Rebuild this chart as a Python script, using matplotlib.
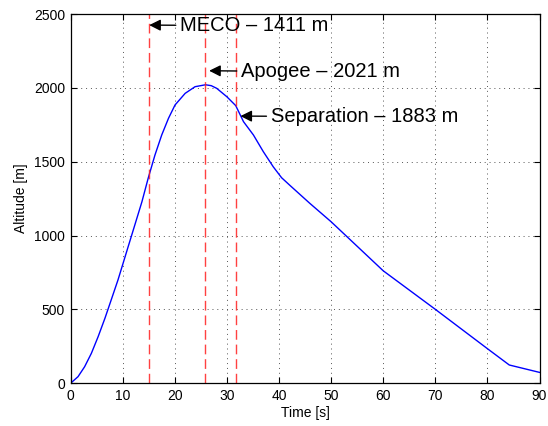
import matplotlib.pyplot as plt

# flight profile (time in s, altitude in m)
time_s = [0, 1.44, 2.7, 4.0, 5.3, 6.6, 7.8, 9.1, 10.1, 11.0, 12.0, 12.4, 13.7,
          14.9, 16.2, 17.5, 18.8, 20.05, 22.0, 23.9, 25.9, 27.0, 28.05, 30.0,
          31.7, 33.2, 35.1, 37.0, 38.9, 40.5, 42.1, 45.9, 50.0, 60.0, 70.0,
          80.1, 84.2, 90.0]
altitude_m = [0, 45, 112, 203, 316, 440, 564, 699, 814, 918, 1033, 1079, 1229,
              1388, 1545, 1681, 1794, 1884, 1963, 2008, 2021, 2015, 1997, 1940,
              1880, 1771, 1681, 1568, 1466, 1392, 1340, 1219, 1094, 762, 501,
              232, 124, 74]

events = ["MECO", "Apogee", "Separation"]
event_time = [15.06, 25.9, 31.7]
event_alt = [1411, 2021, 1883]
# where the arrow heads and labels sit
arrow_tip = [(15.1, 2425), (26.6, 2116), (32.6, 1809)]
label_pos = [(21.0, 2421), (32.7, 2109), (38.4, 1805)]

plt.rcParams['font.family'] = ['Liberation Sans', 'DejaVu Sans']

fig = plt.figure(figsize=(5.48, 4.26), dpi=100)
ax = fig.add_axes([0.1287, 0.1002, 0.8558, 0.8669])

ax.plot(time_s, altitude_m, color='#0000ff', lw=1.0)

for t in event_time:
    ax.axvline(t, color='#ff2020', lw=1.0, ls=(0, (7, 3.5)), alpha=0.85)

for name, alt, tip, pos in zip(events, event_alt, arrow_tip, label_pos):
    ax.annotate(f"{name} \u2013 {alt} m", xy=tip, xytext=pos,
                ha='left', va='center', fontsize=14.5,
                arrowprops=dict(arrowstyle='-|>', color='k', lw=1.0,
                                mutation_scale=17, shrinkA=1, shrinkB=0))

ax.set_xlim(0, 90)
ax.set_ylim(0, 2500)
ax.set_xticks(range(0, 91, 10))
ax.set_yticks(range(0, 2501, 500))
ax.grid(True, color='#555555', ls=(0, (1, 4)), lw=0.7)
ax.tick_params(direction='in', top=True, right=True, labelsize=10, length=4, pad=4)
for s in ax.spines.values():
    s.set_linewidth(0.9)

ax.set_xlabel("Time [s]", fontsize=10, labelpad=2)
ax.set_ylabel("Altitude [m]", fontsize=10, labelpad=4)

fig.savefig("out.png", dpi=100)
